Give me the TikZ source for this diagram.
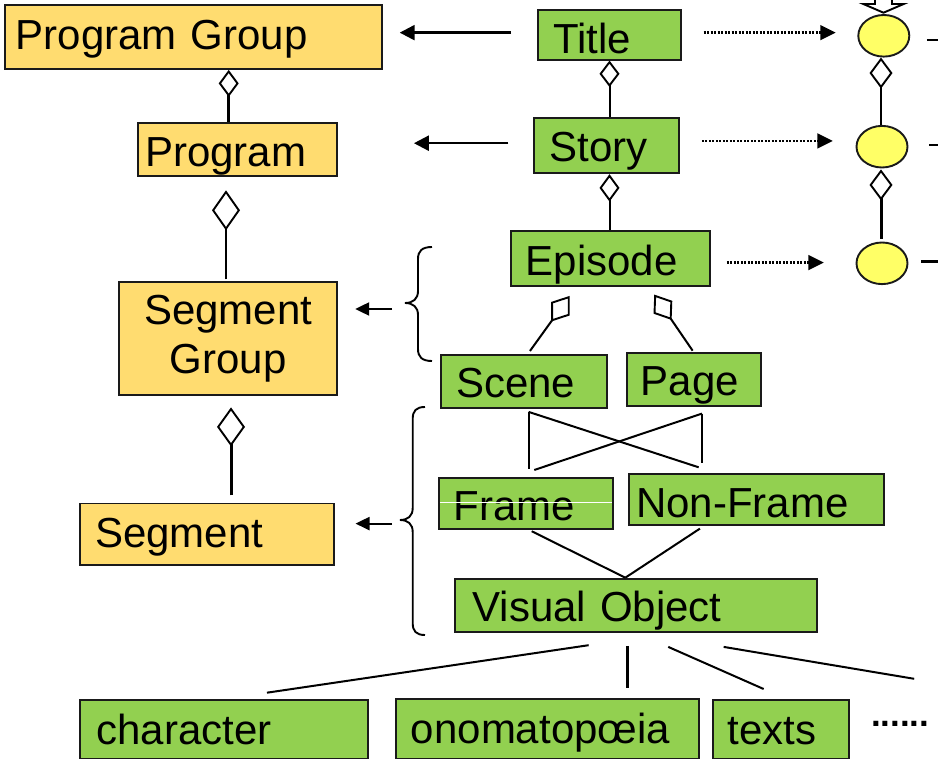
\documentclass[tikz,border=0pt]{standalone}
\usepackage{fontspec}
\setmainfont{Liberation Sans}
\usepackage{graphicx}
\usetikzlibrary{arrows.meta,shapes.geometric}

\definecolor{boxgreen}{HTML}{92D050}
\definecolor{boxgold}{HTML}{FFDC70}
\definecolor{nodeyellow}{HTML}{FFFF66}
\definecolor{edge}{HTML}{1A1A1A}

% lower a label by #1 pt inside its box
\newcommand{\shiftdown}[2]{\raisebox{-#1pt}{#2}}

\tikzset{
  cls/.style={draw=edge, line width=1.9pt, rectangle, anchor=north west, inner ysep=0pt, align=left},
  gbox/.style={cls, fill=boxgreen, font=\fontsize{42}{48}\selectfont, text height=30pt, text depth=0pt},
  ybox/.style={cls, fill=boxgold, font=\fontsize{42}{49.8}\selectfont},
  ybox1/.style={ybox, text height=30pt, text depth=0pt},
  lbox/.style={cls, fill=boxgreen, font=\fontsize{42}{48}\selectfont, text height=30pt, text depth=0pt},
  ell/.style={ellipse, draw=edge, line width=1.9pt, fill=nodeyellow, minimum width=51pt, minimum height=41.6pt, inner sep=0pt},
  link/.style={line width=2pt, draw=black},
  heavylink/.style={line width=3pt, draw=black},
  arr/.style={line width=2.4pt, -{Triangle[length=15pt,width=15pt]}},
  barr/.style={line width=2.2pt, -{Triangle[length=14pt,width=13pt]}},
  dotarr/.style={line width=2.4pt, dash pattern=on 2pt off 1.5pt, -{Triangle[length=15.5pt,width=14.7pt]}},
  agg/.style 2 args={-{Diamond[fill=white,line width=1.9pt,length=#1,width=#2]}},
  brc/.style={line width=1.9pt},
}

\begin{document}
\begin{tikzpicture}[x=1pt,y=-1pt]
\useasboundingbox (0,0) rectangle (938,759);
\clip (0,0) rectangle (938,759);

% ---------- left column ----------
\node[ybox1, text width=355.6pt, inner xsep=10.7pt, minimum height=63.6pt] (pgroup) at (4,4.4) {\shiftdown{-2.6}{Program Group}};
\node[ybox1, text width=184.9pt, inner xsep=6.9pt, minimum height=53.5pt] (program) at (137.3,121.8) {\shiftdown{2.4}{Program}};
\node[ybox, text width=207.7pt, inner xsep=5pt, minimum height=113.5pt, align=center] (sgroup) at (118.3,281) {Segment\\Group};
\node[ybox1, text width=224pt, inner xsep=15pt, minimum height=61.1pt] (segment) at (79.3,502.5) {\shiftdown{-2}{Segment}};

% ---------- middle column ----------
\node[gbox, text width=112.5pt, inner xsep=15.4pt, minimum height=49.4pt] (title) at (536.7,9.3) {\shiftdown{3.7}{Title}};
\node[gbox, text width=113.6pt, inner xsep=16pt, minimum height=55.3pt] (story) at (532.7,117) {\shiftdown{1}{Story}};
\node[gbox, text width=169.3pt, inner xsep=15pt, minimum height=55.3pt] (episode) at (510,230) {\shiftdown{1.5}{Episode}};
\node[gbox, text width=135.4pt, inner xsep=15.3pt, minimum height=52.7pt] (scene) at (440,354) {\shiftdown{1}{Scene}};
\node[gbox, text width=105.7pt, inner xsep=14.3pt, minimum height=53.3pt] (page) at (625.7,351.7) {\shiftdown{1.7}{Page}};
\node[gbox, text width=144.6pt, inner xsep=14.4pt, minimum height=51pt] (frame) at (438.3,476.7) {\shiftdown{2.8}{Frame}};
\node[gbox, text width=240.8pt, inner xsep=7.4pt, minimum height=51pt] (nonframe) at (627.7,473.3) {\shiftdown{2.5}{Non-Frame}};
\node[gbox, text width=326.3pt, inner xsep=17.7pt, minimum height=53pt] (vobj) at (454,577.7) {\shiftdown{1.6}{Visual Object}};
\draw[white, line width=1pt] ([xshift=2pt,yshift=0.5pt]frame.west) -- ([xshift=-2pt,yshift=0.5pt]frame.east);

% ---------- bottom row ----------
\node[lbox, text width=255.3pt, inner xsep=16.5pt, minimum height=59pt] (char) at (79,699.3) {character};
\node[lbox, text width=273.3pt, inner xsep=15pt, minimum height=60.3pt] (ono) at (395,697.7) {onomatopœia};
\node[lbox, text width=106pt, inner xsep=15.3pt, minimum height=59pt] (texts) at (711.7,699) {texts};
\node[font=\fontsize{35}{40}\selectfont\bfseries, anchor=base west, inner sep=0pt, text height=25pt] (more) at (870.8,726) {......};

% ---------- right column ----------
\node[ell] (e1) at (883.8,35.8) {};
\node[ell] (e2) at (882,146.7) {};
\node[ell] (e3) at (882,263.3) {};
\draw[line width=1.9pt, fill=white] (875,-4) -- (875,4) -- (863.3,4) -- (883.5,12.7) -- (903.7,4) -- (892,4) -- (892,-4) -- cycle;

% ---------- aggregation links ----------
\coordinate (lx1) at (228.7,0);
\coordinate (lx2) at (226,0);
\coordinate (lx3) at (231,0);
\coordinate (mx) at (609.5,0);
\coordinate (rx) at (881,0);

\draw[heavylink, agg={27pt}{20pt}] (program.north -| lx1) -- (pgroup.south -| lx1);
\draw[link, agg={40pt}{28pt}, shorten <=1.7pt, shorten >=13.1pt] (sgroup.north -| lx2) -- (program.south -| lx2);
\draw[heavylink, agg={39pt}{28pt}, shorten <=7.2pt, shorten >=11pt] (segment.north -| lx3) -- (sgroup.south -| lx3);

\draw[link, agg={26.4pt}{20pt}] (story.north -| mx) -- (title.south -| mx);
\draw[link, agg={27.4pt}{20pt}] (episode.north -| mx) -- (story.south -| mx);

\draw[link, agg={31pt}{23pt}] (e2.north -| rx) -- (e1.south -| rx);
\draw[heavylink, agg={31pt}{23pt}, shorten <=3pt, shorten >=1pt] (e3.north -| rx) -- (e2.south -| rx);

\draw[link, agg={31.6pt}{23pt}] ([xshift=6pt,yshift=3pt]scene.north) -- ([xshift=-40.95pt,yshift=-8.7pt]episode.south);
\draw[link, agg={30.7pt}{22.7pt}] ([xshift=-1.15pt,yshift=1pt]page.north) -- ([xshift=43.65pt,yshift=-7.4pt]episode.south);

% ---------- mapping arrows ----------
\draw[arr, shorten <=25.7pt, shorten >=16.8pt] ([yshift=2.3pt]title.west) -- ([yshift=2.3pt]title.west -| pgroup.east);
\draw[arr, shorten <=24.4pt, shorten >=76pt] ([yshift=2.4pt]story.west) -- ([yshift=2.4pt]story.west -| program.east);

\draw[dotarr, shorten <=21.7pt, shorten >=21.6pt] ([yshift=2.3pt]title.east) -- ([yshift=2.3pt]title.east -| e1.west);
\draw[dotarr, shorten <=21.7pt, shorten >=22.7pt] ([yshift=4.7pt]story.east) -- ([yshift=4.7pt]story.east -| e2.west);
\draw[dotarr, shorten <=15.7pt, shorten >=31.7pt] ([yshift=-4pt]episode.east) -- ([yshift=-4pt]episode.east -| e3.west);

% stubs leaving the right column
\draw[line width=2.8pt] ([xshift=16.7pt,yshift=-4.2pt]e1.east) -- ++(30,0);
\draw[line width=2.8pt] ([xshift=20.6pt,yshift=1.7pt]e2.east) -- ++(30,0);
\draw[line width=2.8pt] ([xshift=12.7pt,yshift=1.6pt]e3.east) -- ++(30,0);

% ---------- braces ----------
\draw[brc] (432,247) .. controls (422,247) and (418,251) .. (418,259) -- (418,291)
  .. controls (418,299) and (413,303) .. (405,303)
  .. controls (413,303) and (418,307) .. (418,315) -- (418,349)
  .. controls (418,357) and (422,361) .. (432,361);
\draw[brc] (425,407) .. controls (416,407) and (412.7,411) .. (412.7,419) -- (412.7,508)
  .. controls (412.7,516) and (408,520) .. (400,520)
  .. controls (408,520) and (412.7,524) .. (412.7,532) -- (412.7,623)
  .. controls (412.7,631) and (416,635) .. (425,635);
\coordinate (br1) at (392,309);
\coordinate (br2) at (392,523.6);
\draw[barr, shorten >=17.3pt] (br1) -- (br1 -| sgroup.east);
\draw[barr, shorten >=20.3pt] (br2) -- (br2 -| segment.east);

% ---------- scene/page to frame/non-frame ----------
\draw[link] ([xshift=4.7pt,yshift=-3.3pt]scene.south) -- ([xshift=2.7pt,yshift=7.7pt]frame.north);
\draw[link] ([xshift=4.7pt,yshift=-3.3pt]scene.south) -- ([xshift=-57.8pt,yshift=6pt]nonframe.north);
\draw[link] ([xshift=8.15pt,yshift=-6.7pt]page.south) -- ([xshift=-54.5pt,yshift=10pt]nonframe.north);
\draw[link] ([xshift=8.15pt,yshift=-6.7pt]page.south) -- ([xshift=8.3pt,yshift=6.7pt]frame.north);

\draw[link] ([xshift=5.7pt,yshift=-1.6pt]frame.south) -- ([xshift=-10.5pt]vobj.north);
\draw[link] ([xshift=-56.5pt,yshift=-2.4pt]nonframe.south) -- ([xshift=-10.5pt]vobj.north);

% ---------- visual object to its kinds ----------
\draw[link] ([xshift=-47.15pt,yshift=-12.6pt]vobj.south) -- ([xshift=42.85pt,yshift=6.6pt]char.north);
\draw[heavylink] ([xshift=-8.15pt,yshift=-13.3pt]vobj.south) -- ([xshift=80.05pt,yshift=9.4pt]ono.north);
\draw[link] ([xshift=32.45pt,yshift=-14.3pt]vobj.south) -- ([xshift=-17.3pt,yshift=10pt]texts.north);
\draw[link] ([xshift=87.85pt,yshift=-14.3pt]vobj.south) -- ([xshift=14pt,yshift=22pt]more.north);
\end{tikzpicture}
\end{document}
